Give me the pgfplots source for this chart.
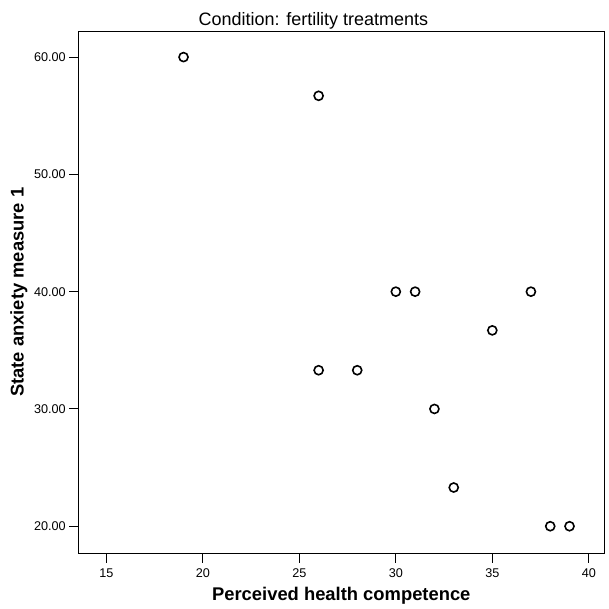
\documentclass[border=0pt]{standalone}
\usepackage{pgfplots}
\pgfplotsset{compat=1.18}
\usepackage{fontspec}
\setmainfont{Liberation Sans}

\begin{document}
\begin{tikzpicture}
\begin{axis}[
    scale only axis,
    width=395pt, height=392pt,
    xmin=13.55, xmax=40.8,
    ymin=17.7, ymax=62.2,
    xtick={15,20,25,30,35,40},
    ytick={20,30,40,50,60},
    yticklabel={\pgfmathprintnumber[fixed,fixed zerofill,precision=2]{\tick}},
    /pgf/number format/assume math mode=true,
    tick pos=left,
    tick align=outside,
    major tick length=7pt,
    axis line style={line width=0.9pt},
    tick style={line width=0.8pt, black},
    tick label style={font=\fontsize{9.5}{11}\selectfont},
    xticklabel style={yshift=-1pt},
    yticklabel style={xshift=1pt},
    xlabel={\textbf{Perceived health competence}},
    ylabel={\textbf{State anxiety measure 1}},
    label style={font=\fontsize{13.8}{16}\selectfont},
    xlabel style={at={(axis description cs:0.5,-0.082)}, anchor=center},
    ylabel style={at={(axis description cs:-0.113,0.5)}, anchor=center},
    clip=false,
]
\addplot[only marks, mark=o, mark size=3.4pt, line width=1.2pt, black] coordinates {
    (19,60.0)
    (26,56.7)
    (30,40.0)
    (31,40.0)
    (37,40.0)
    (35,36.7)
    (26,33.3)
    (28,33.3)
    (32,30.0)
    (33,23.3)
    (38,20.0)
    (39,20.0)
};
\node[anchor=base, font=\fontsize{13.5}{15}\selectfont] at (rel axis cs:0.447,1.0115) {Condition: fertility treatments};
\path (rel axis cs:-0.149,-0.1) rectangle (rel axis cs:1.0076,1.06);
\end{axis}
\end{tikzpicture}
\end{document}
